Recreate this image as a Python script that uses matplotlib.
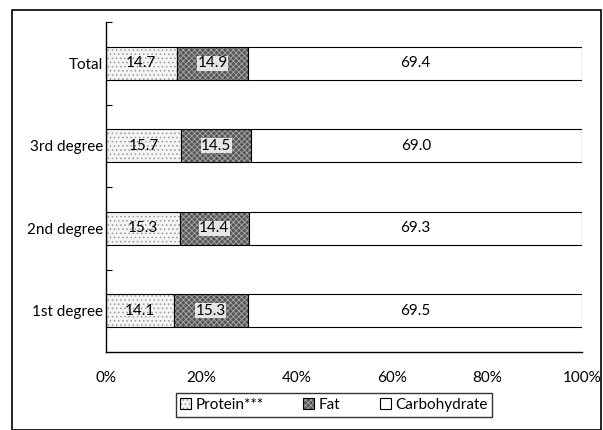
import matplotlib
matplotlib.use("Agg")
import matplotlib.pyplot as plt
from matplotlib.patches import Rectangle
import numpy as np

categories = ["1st degree", "2nd degree", "3rd degree", "Total"]
protein = [14.1, 15.3, 15.7, 14.7]
fat = [15.3, 14.4, 14.5, 14.9]
carbohydrate = [69.5, 69.3, 69.0, 69.4]
series_names = ["Protein***", "Fat", "Carbohydrate"]
xtick_labels = ["0%", "20%", "40%", "60%", "80%", "100%"]

plt.rcParams['font.family'] = ['Lato', 'DejaVu Sans']
plt.rcParams['hatch.linewidth'] = 0.6

fig = plt.figure(figsize=(6.03, 4.30), dpi=100)
ax = fig.add_axes([106/603, 1-352/430, (582-106)/603, (352-22)/430])

p = np.array(protein); f = np.array(fat); c = np.array(carbohydrate)
tot = p + f + c
pn, fn, cn = p/tot*100, f/tot*100, c/tot*100
y = np.arange(len(categories))
h = 0.4

b1 = ax.barh(y, pn, height=h, color='#f4f4f4', edgecolor='black', hatch='....', linewidth=0.8, label=series_names[0])
b2 = ax.barh(y, fn, left=pn, height=h, color='#555555', edgecolor='black', hatch='xxxxxx', linewidth=0.8, label=series_names[1])
b3 = ax.barh(y, cn, left=pn+fn, height=h, color='white', edgecolor='black', linewidth=0.8, label=series_names[2])
for bar in b1:
    bar._hatch_color = matplotlib.colors.to_rgba('#999999')
for bar in b2:
    bar._hatch_color = matplotlib.colors.to_rgba('#aaaaaa')

fs = 11
for i in range(len(categories)):
    ax.text(pn[i]/2, y[i], f"{protein[i]:.1f}", ha='center', va='center', fontsize=fs)
    ax.text(pn[i]+fn[i]/2, y[i], f"{fat[i]:.1f}", ha='center', va='center', fontsize=fs,
            bbox=dict(facecolor='#e6e6e6', edgecolor='none', pad=0.3))
    ax.text(pn[i]+fn[i]+cn[i]/2, y[i], f"{carbohydrate[i]:.1f}", ha='center', va='center', fontsize=fs)

ax.set_xlim(0, 100)
ax.set_ylim(-0.5, 3.5)
ax.set_yticks(y)
ax.set_yticklabels(categories, fontsize=fs)
ax.set_yticks([0.5, 1.5, 2.5, 3.5], minor=True)
ax.tick_params(axis='y', which='major', length=0, pad=2)
ax.tick_params(axis='y', which='minor', direction='in', length=4, width=0.8)
ax.set_xticks([0, 20, 40, 60, 80, 100])
ax.set_xticklabels(xtick_labels, fontsize=fs)
ax.tick_params(axis='x', length=0, pad=14)
for s in ['top', 'right']:
    ax.spines[s].set_visible(False)
ax.spines['left'].set_linewidth(1.0)
ax.spines['bottom'].set_linewidth(1.0)

leg = fig.legend(handles=[b1, b2, b3], labels=series_names, ncol=3, loc='center',
                 bbox_to_anchor=(334/603, 1-405/430), fontsize=fs, frameon=True,
                 fancybox=False, edgecolor='black', handlelength=0.7, handleheight=0.7,
                 handletextpad=0.3, columnspacing=2.6, borderpad=0.3)
leg.get_frame().set_linewidth(1.0)

fig.patches.append(Rectangle((12/603, 0), (601-12)/603, 1-10/430, transform=fig.transFigure,
                             fill=False, edgecolor='black', linewidth=1.2))

fig.savefig("out.png", dpi=100)
